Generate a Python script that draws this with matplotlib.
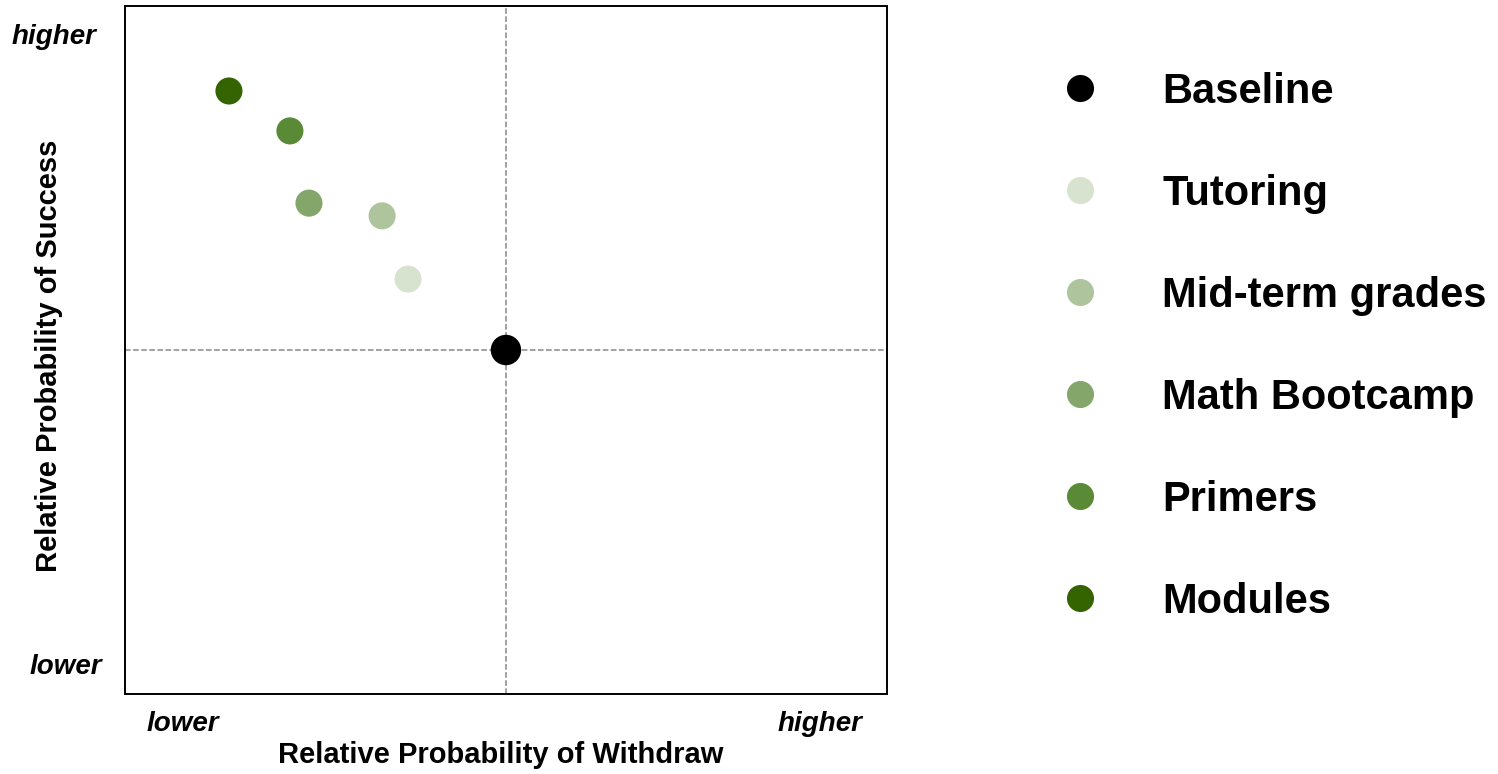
import matplotlib
matplotlib.use("Agg")
import matplotlib.pyplot as plt
from matplotlib.lines import Line2D

plt.rcParams['font.family'] = ['Liberation Sans', 'DejaVu Sans']

# Data (relative position vs. baseline, axes span -1..1)
names = ["Baseline", "Tutoring", "Mid-term grades", "Math Bootcamp", "Primers", "Modules"]
withdraw = [0.0, -0.257, -0.325, -0.517, -0.567, -0.727]
success = [0.0, 0.206, 0.390, 0.427, 0.637, 0.753]
colors = ["#000000", "#d8e3cf", "#adc49c", "#84a66a", "#5b8a36", "#346400"]
sizes = [480, 380, 380, 380, 380, 380]

fig = plt.figure(figsize=(14.98, 7.74), dpi=100)
ax = fig.add_axes([0.0834, 0.1034, 0.5087, 0.8888])

ax.axvline(0, color="#888888", linestyle="--", linewidth=1.1, zorder=1)
ax.axhline(0, color="#888888", linestyle="--", linewidth=1.1, zorder=1)

for x, y, c, s in zip(withdraw, success, colors, sizes):
    ax.scatter(x, y, s=s, color=c, edgecolors="none", zorder=3)

ax.set_xlim(-1, 1)
ax.set_ylim(-1, 1)
ax.set_xticks([])
ax.set_yticks([])
for sp in ax.spines.values():
    sp.set_linewidth(1.4)

# axis titles and low/high hints
fig.text(0.334, 0.006, "Relative Probability of Withdraw", fontsize=21,
         fontweight="bold", ha="center", va="bottom")
fig.text(0.033, 0.54, "Relative Probability of Success", fontsize=21,
         fontweight="bold", rotation=90, ha="center", va="center")
fig.text(0.008, 0.952, "higher", fontsize=20, fontweight="bold", style="italic",
         ha="left", va="center")
fig.text(0.020, 0.138, "lower", fontsize=20, fontweight="bold", style="italic",
         ha="left", va="center")
fig.text(0.098, 0.064, "lower", fontsize=20, fontweight="bold", style="italic",
         ha="left", va="center")
fig.text(0.576, 0.064, "higher", fontsize=20, fontweight="bold", style="italic",
         ha="right", va="center")

# legend
handles = [Line2D([], [], marker="o", linestyle="none", markersize=19.5,
                  markerfacecolor=c, markeredgecolor="none") for c in colors]
leg = fig.legend(handles, names, loc="center left", bbox_to_anchor=(0.707, 0.552),
                 frameon=False, prop={"size": 30, "weight": "bold"},
                 handlelength=1.0, handletextpad=1.47, labelspacing=1.49,
                 borderpad=0, borderaxespad=0)

fig.savefig("out.png", dpi=100)
